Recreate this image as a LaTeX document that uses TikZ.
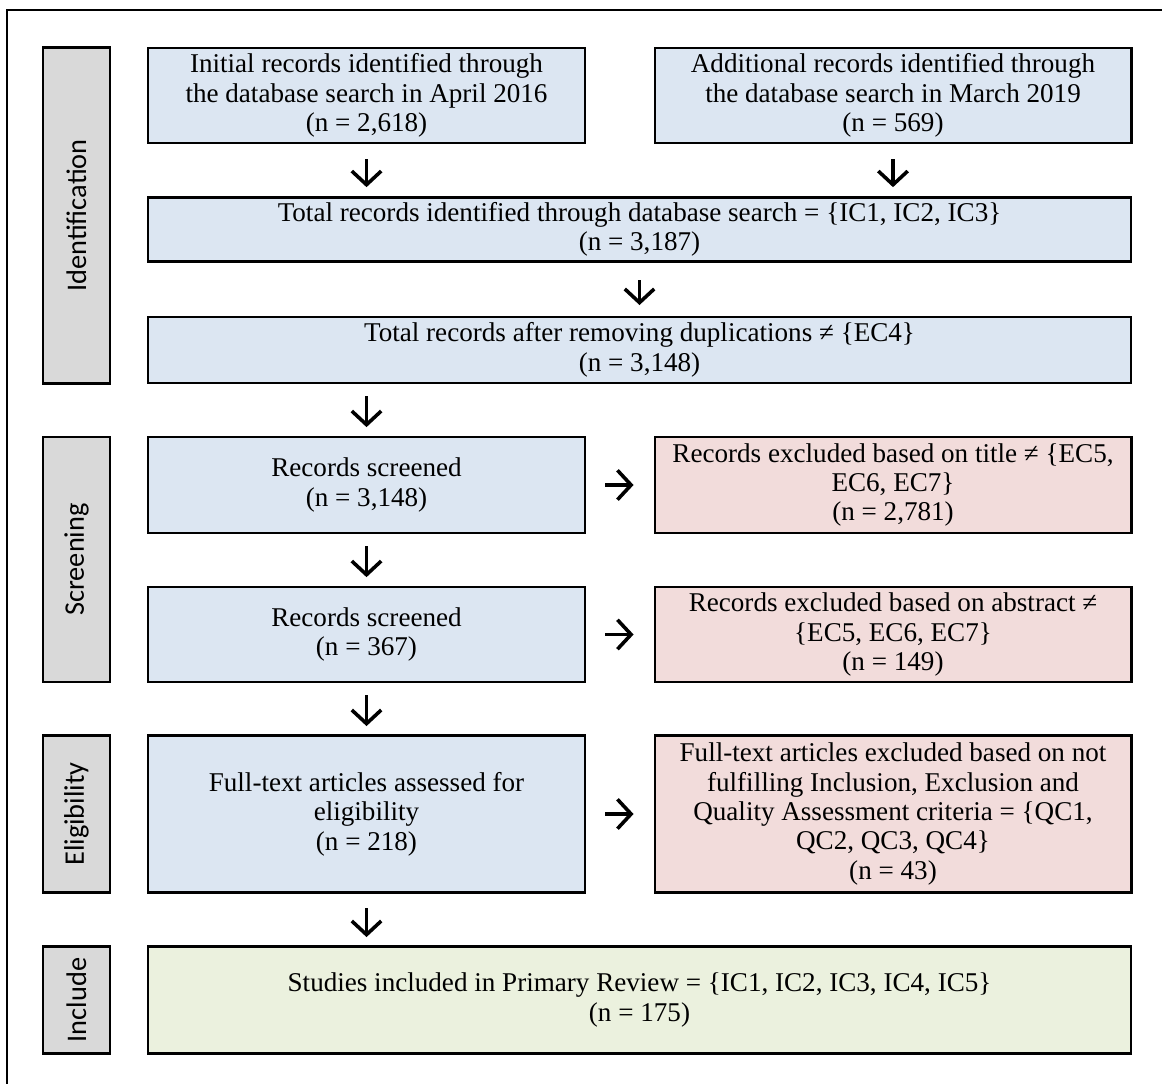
\documentclass[tikz,border=0pt]{standalone}
\usepackage{fontspec}
\setmainfont{Liberation Serif}
\newfontfamily\sidefont{Carlito}
\usetikzlibrary{arrows.meta}
\definecolor{boxblue}{HTML}{DCE6F2}
\definecolor{boxred}{HTML}{F2DCDB}
\definecolor{boxgreen}{HTML}{EBF1DE}
\definecolor{sidegray}{HTML}{D9D9D9}

\begin{document}
\begin{tikzpicture}[x=0.476pt,y=-0.476pt,
        box/.style={draw,line width=1.4pt,align=center,inner sep=1pt,font=\fontsize{12.9}{14}\selectfont},
        srch/.style={box,fill=boxblue},
        excl/.style={box,fill=boxred},
        incl/.style={box,fill=boxgreen},
        side/.style={draw,line width=1.4pt,fill=sidegray,rotate=90,minimum height=31.9pt,font=\sidefont\fontsize{13.5}{16}\selectfont},
        arr/.style={line width=1.7pt,-{Straight Barb[length=6.5pt,width=14pt]}}]

            \useasboundingbox (0,0) rectangle (1162,1084);
            \draw[line width=1.3pt] (7,1084) -- (7,10) -- (1162,10);

            \node[side, minimum width=159.5pt] (sid) at (76.5,215.5) {Identification};
            \node[side, minimum width=116.6pt] (sscr) at (76.5,559.5) {Screening};
            \node[side, minimum width=74.3pt] (selig) at (76.5,814) {Eligibility};
            \node[side, minimum width=50.5pt] (sincl) at (76.5,1000) {Include};

            \node[srch, minimum width=208pt, minimum height=45.2pt] (init) at (366.5,95.5)
                {Initial records identified through\\the database search in April 2016\\(n = 2,618)};
            \node[srch, minimum width=226.6pt, minimum height=45.2pt] (addl) at (893,95.5)
                {Additional records identified through\\the database search in March 2019\\(n = 569)};
            \node[srch, minimum width=467.9pt, minimum height=30.9pt] (total) at (639.5,229.5)
                {Total records identified through database search = \{IC1, IC2, IC3\}\\(n = 3,187)};
            \node[srch, minimum width=467.9pt, minimum height=31.4pt] (dedup) at (639.5,350)
                {Total records after removing duplications ≠ \{EC4\}\\(n = 3,148)};

            \node[srch, minimum width=208pt, minimum height=45.7pt] (scr1) at (366.5,485)
                {Records screened\\(n = 3,148)};
            \node[excl, minimum width=226.6pt, minimum height=45.7pt] (ex1) at (893,485)
                {Records excluded based on title ≠ \{EC5,\\EC6, EC7\}\\(n = 2,781)};
            \node[srch, minimum width=208pt, minimum height=45.2pt] (scr2) at (366.5,634.5)
                {Records screened\\(n = 367)};
            \node[excl, minimum width=226.6pt, minimum height=45.2pt] (ex2) at (893,634.5)
                {Records excluded based on abstract ≠\\\{EC5, EC6, EC7\}\\(n = 149)};

            \node[srch, minimum width=208pt, minimum height=74.3pt] (full) at (366.5,814)
                {Full-text articles assessed for\\eligibility\\(n = 218)};
            \node[excl, minimum width=226.6pt, minimum height=74.3pt] (ex3) at (893,814)
                {Full-text articles excluded based on not\\fulfilling Inclusion, Exclusion and\\Quality Assessment criteria = \{QC1,\\QC2, QC3, QC4\}\\(n = 43)};

            \node[incl, minimum width=467.9pt, minimum height=50.5pt] (final) at (639.5,1000)
                {Studies included in Primary Review = \{IC1, IC2, IC3, IC4, IC5\}\\(n = 175)};

            \draw[arr, shorten <=7pt, shorten >=4pt] (init.south) -- (init.south |- total.north);
            \draw[arr, shorten <=7pt, shorten >=4pt] (addl.south) -- (addl.south |- total.north);
            \draw[arr, shorten <=8pt, shorten >=5pt] (total.south) -- (dedup.north);
            \draw[arr, shorten <=5.5pt, shorten >=4pt] (scr1.north |- dedup.south) -- (scr1.north);
            \draw[arr, shorten <=5.5pt, shorten >=4pt] (scr1.south) -- (scr2.north);
            \draw[arr, shorten <=5.5pt, shorten >=4pt] (scr2.south) -- (full.north);
            \draw[arr, shorten <=7pt, shorten >=4pt] (full.south) -- (full.south |- final.north);

            \draw[arr, shorten <=9pt, shorten >=9.5pt] (scr1.east) -- (ex1.west);
            \draw[arr, shorten <=9pt, shorten >=9.5pt] (scr2.east) -- (ex2.west);
            \draw[arr, shorten <=9pt, shorten >=9.5pt] (full.east) -- (ex3.west);
        \end{tikzpicture}
\end{document}
